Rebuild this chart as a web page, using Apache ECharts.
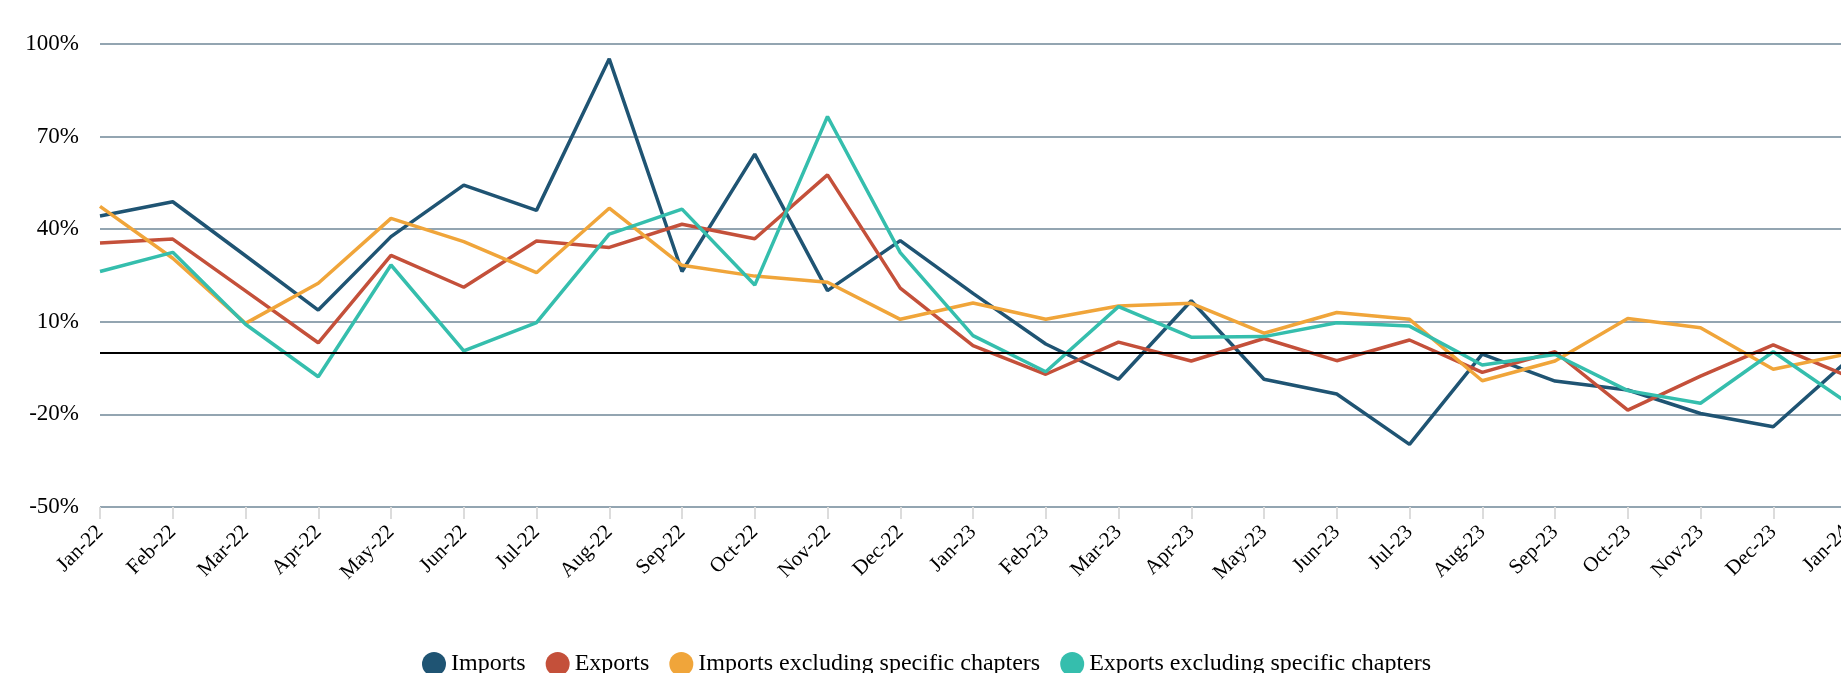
<!DOCTYPE html>
<html>
<head>
<meta charset="utf-8">
<script src="https://cdn.jsdelivr.net/npm/echarts@6/dist/echarts.min.js"></script>
<style>
html,body{margin:0;padding:0;background:#fff;}
#chart{width:1841px;height:673px;}
</style>
</head>
<body>
<div id="chart"></div>
<script>
var categories = ['Jan-22','Feb-22','Mar-22','Apr-22','May-22','Jun-22','Jul-22','Aug-22','Sep-22','Oct-22','Nov-22','Dec-22',
  'Jan-23','Feb-23','Mar-23','Apr-23','May-23','Jun-23','Jul-23','Aug-23','Sep-23','Oct-23','Nov-23','Dec-23','Jan-24'];
var imports = [44.3, 48.9, 31.4, 13.8, 37.6, 54.3, 46.1, 95.2, 26.3, 64.3, 20.1, 36.3,
  19.2, 2.8, -8.6, 16.8, -8.6, -13.4, -29.7, -0.5, -9.2, -12.1, -19.7, -24.0, -3.0];
var exportsVals = [35.5, 36.8, 20.0, 3.2, 31.5, 21.2, 36.2, 34.1, 41.6, 36.9, 57.6, 20.9,
  2.3, -7.0, 3.4, -2.7, 4.6, -2.6, 4.1, -6.4, 0.3, -18.6, -7.6, 2.5, -7.4];
var importsExcl = [47.4, 30.6, 9.5, 22.5, 43.5, 36.0, 25.9, 46.8, 28.3, 24.8, 22.8, 10.8,
  16.1, 10.8, 15.1, 16.0, 6.3, 13.0, 10.8, -9.1, -2.7, 11.1, 8.1, -5.4, -0.5];
var exportsExcl = [26.3, 32.5, 9.2, -7.8, 28.4, 0.6, 9.7, 38.4, 46.5, 21.9, 76.5, 32.4,
  5.5, -6.2, 14.9, 5.0, 5.2, 9.7, 8.6, -4.0, -0.6, -12.3, -16.4, 0.3, -15.9];
var seriesNames = ['Imports','Exports','Imports excluding specific chapters','Exports excluding specific chapters'];
var colors = ['#1f5473','#c4503a','#f0a53a','#35bead'];

var font = "'Liberation Serif', 'Times New Roman', serif";
var chart = echarts.init(document.getElementById('chart'));
function mk(name, data, idx, extra){
  var s = {
    name: name, type: 'line', data: data, symbol: 'none', smooth: false,
    lineStyle: {width: 3.5, color: colors[idx]}, itemStyle: {color: colors[idx]},
    emphasis: {disabled: true}
  };
  if (extra) Object.assign(s, extra);
  return s;
}
chart.setOption({
  animation: false,
  color: colors,
  textStyle: {fontFamily: font},
  grid: {left: 100, top: 44, width: 1746, bottom: 166, containLabel: false, outerBoundsMode: 'none'},
  legend: {
    top: 647, left: 417, icon: 'circle', itemWidth: 24, itemHeight: 24, itemGap: 20,
    textStyle: {fontFamily: font, fontSize: 24, color: '#000'},
    data: seriesNames
  },
  xAxis: {
    type: 'category', data: categories, boundaryGap: false,
    axisLine: {show: false, onZero: false},
    axisTick: {show: true, length: 12, lineStyle: {color: '#dcdcdc', width: 2}},
    axisLabel: {rotate: 45, fontFamily: font, fontSize: 21, color: '#000', margin: 22, interval: 0}
  },
  yAxis: {
    type: 'value', min: -50, max: 100, interval: 30,
    axisLine: {show: false}, axisTick: {show: false},
    splitLine: {lineStyle: {color: '#93a5b1', width: 2}},
    axisLabel: {formatter: '{value}%', fontFamily: font, fontSize: 23, color: '#000', margin: 21}
  },
  series: [
    mk(seriesNames[0], imports, 0, {
      markLine: {silent: true, symbol: 'none', label: {show: false},
        lineStyle: {color: '#000', width: 2, type: 'solid'}, data: [{yAxis: 0}]}
    }),
    mk(seriesNames[1], exportsVals, 1),
    mk(seriesNames[2], importsExcl, 2),
    mk(seriesNames[3], exportsExcl, 3)
  ]
});
</script>
</body>
</html>
